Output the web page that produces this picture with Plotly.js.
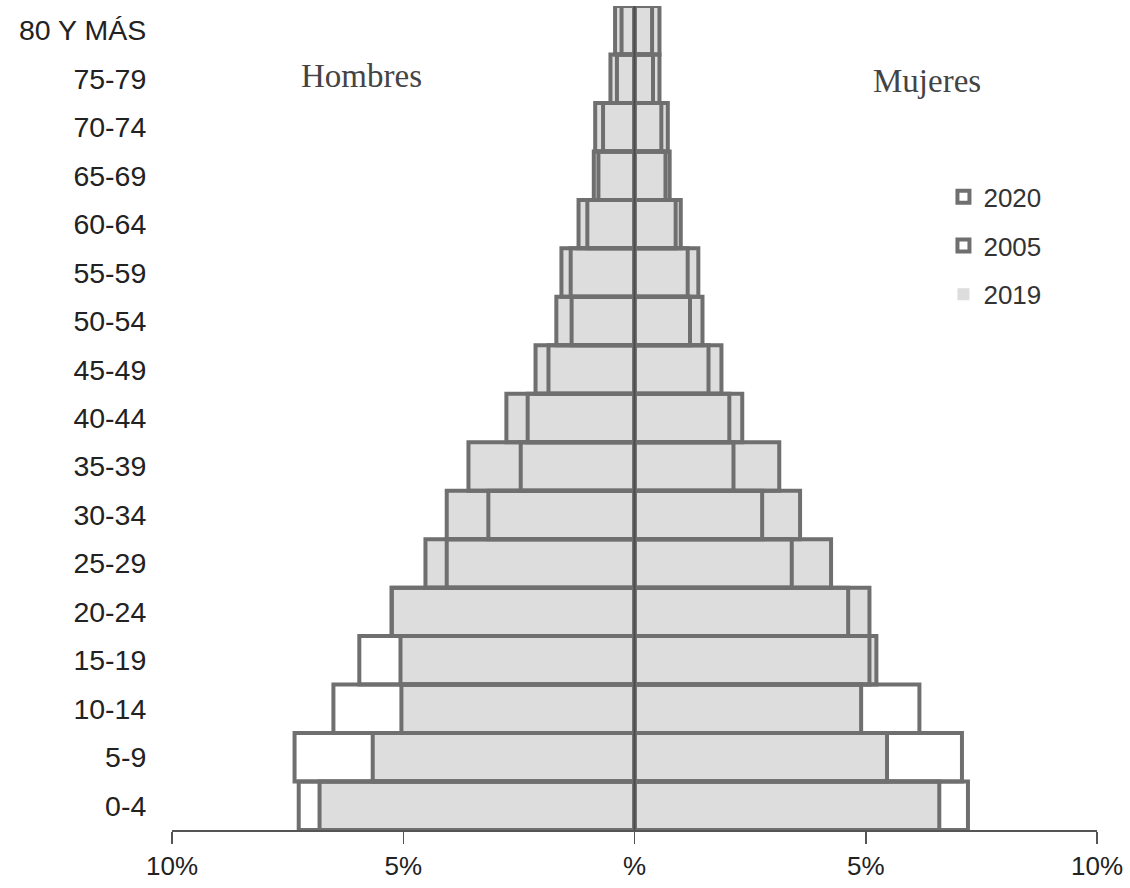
<!DOCTYPE html>
<html>
<head>
<meta charset="utf-8">
<script src="https://cdn.plot.ly/plotly-3.0.1.min.js"></script>
<style>
  html, body { margin: 0; padding: 0; background: #ffffff; }
  #chart { width: 1130px; height: 888px; }
</style>
</head>
<body>
<div id="chart"></div>
<script>
// Age groups, bottom to top
const ageGroups = ["0-4","5-9","10-14","15-19","20-24","25-29","30-34","35-39","40-44",
                   "45-49","50-54","55-59","60-64","65-69","70-74","75-79","80 Y MÁS"];

// Percent of population (men shown to the left)
const men2020   = [6.81, 5.66, 5.04, 5.06, 5.25, 4.52, 4.06, 3.59, 2.77, 2.14, 1.69, 1.58, 1.21, 0.88, 0.85, 0.52, 0.42];
const men2005   = [7.26, 7.35, 6.51, 5.95, 5.25, 4.06, 3.16, 2.46, 2.31, 1.86, 1.36, 1.38, 1.02, 0.78, 0.68, 0.38, 0.28];
const men2019   = [6.81, 5.66, 5.04, 5.06, 5.25, 4.52, 4.06, 3.59, 2.77, 2.14, 1.69, 1.58, 1.21, 0.88, 0.85, 0.52, 0.42];

const women2020 = [6.59, 5.46, 4.90, 5.23, 5.08, 4.25, 3.58, 3.13, 2.33, 1.88, 1.47, 1.38, 1.00, 0.76, 0.72, 0.54, 0.54];
const women2005 = [7.21, 7.08, 6.16, 5.08, 4.62, 3.40, 2.76, 2.14, 2.05, 1.60, 1.20, 1.15, 0.89, 0.67, 0.58, 0.40, 0.38];
const women2019 = [6.59, 5.46, 4.90, 5.23, 5.08, 4.25, 3.58, 3.13, 2.33, 1.88, 1.47, 1.38, 1.00, 0.76, 0.72, 0.54, 0.54];

const xTickVals = [-10, -5, 0, 5, 10];
const xTickText = ["10%", "5%", "%", "5%", "10%"];

const BORDER = "#6f6f6f";
const FILL = "#dddddd";
const neg = a => a.map(v => -v);

function bar(name, x, opts) {
  return Object.assign({
    type: "bar", orientation: "h", y: ageGroups, x: x, name: name,
    hoverinfo: "skip"
  }, opts);
}

const traces = [
  // 2019: light grey fill, drawn first
  bar("2019", neg(men2019), {legendgroup: "g2019", legendrank: 3, showlegend: true,
      marker: {color: FILL, line: {width: 0}}}),
  bar("2019", women2019, {legendgroup: "g2019", legendrank: 3, showlegend: false,
      marker: {color: FILL, line: {width: 0}}}),
  // 2020: outline only
  bar("2020", neg(men2020), {legendgroup: "g2020", legendrank: 1, showlegend: true,
      marker: {color: "rgba(0,0,0,0)", line: {color: BORDER, width: 4}}}),
  bar("2020", women2020, {legendgroup: "g2020", legendrank: 1, showlegend: false,
      marker: {color: "rgba(0,0,0,0)", line: {color: BORDER, width: 4}}}),
  // 2005: outline only
  bar("2005", neg(men2005), {legendgroup: "g2005", legendrank: 2, showlegend: true,
      marker: {color: "rgba(0,0,0,0)", line: {color: BORDER, width: 4}}}),
  bar("2005", women2005, {legendgroup: "g2005", legendrank: 2, showlegend: false,
      marker: {color: "rgba(0,0,0,0)", line: {color: BORDER, width: 4}}})
];

const layout = {
  width: 1130, height: 888,
  margin: {l: 172, r: 33, t: 6, b: 58},
  paper_bgcolor: "#ffffff", plot_bgcolor: "#ffffff",
  barmode: "overlay", bargap: 0,
  font: {family: "Liberation Sans, Arial, sans-serif", color: "#222222"},
  xaxis: {
    range: [-10, 10], tickvals: xTickVals, ticktext: xTickText,
    showgrid: false, zeroline: false,
    showline: true, linecolor: "#555555", linewidth: 1.5,
    ticks: "outside", ticklen: 12, tickcolor: "#555555", tickwidth: 1.5,
    tickfont: {size: 26, color: "#222222"}, fixedrange: true
  },
  yaxis: {
    type: "category", categoryorder: "array", categoryarray: ageGroups,
    showgrid: false, zeroline: false, showline: false,
    ticks: "outside", ticklen: 19, tickcolor: "rgba(0,0,0,0)",
    tickfont: {size: 28.5, color: "#222222"}, fixedrange: true
  },
  legend: {
    x: 0.834, y: 0.797, xanchor: "left", yanchor: "top",
    bgcolor: "rgba(0,0,0,0)", traceorder: "grouped", tracegroupgap: 12,
    font: {size: 26, color: "#333333"}, itemwidth: 30
  },
  shapes: [{
    type: "line", xref: "x", yref: "paper", x0: 0, x1: 0, y0: 0, y1: 1,
    line: {color: "#4a4a4a", width: 2}, layer: "above"
  }],
  annotations: [
    {text: "Hombres", xref: "paper", yref: "paper", x: 0.205, y: 0.915,
     showarrow: false, xanchor: "center", yanchor: "middle",
     font: {family: "Liberation Serif, Times New Roman, serif", size: 33, color: "#444444"}},
    {text: "Mujeres", xref: "paper", yref: "paper", x: 0.816, y: 0.909,
     showarrow: false, xanchor: "center", yanchor: "middle",
     font: {family: "Liberation Serif, Times New Roman, serif", size: 33, color: "#444444"}}
  ]
};

Plotly.newPlot("chart", traces, layout, {displayModeBar: false, staticPlot: true});
</script>
</body>
</html>
